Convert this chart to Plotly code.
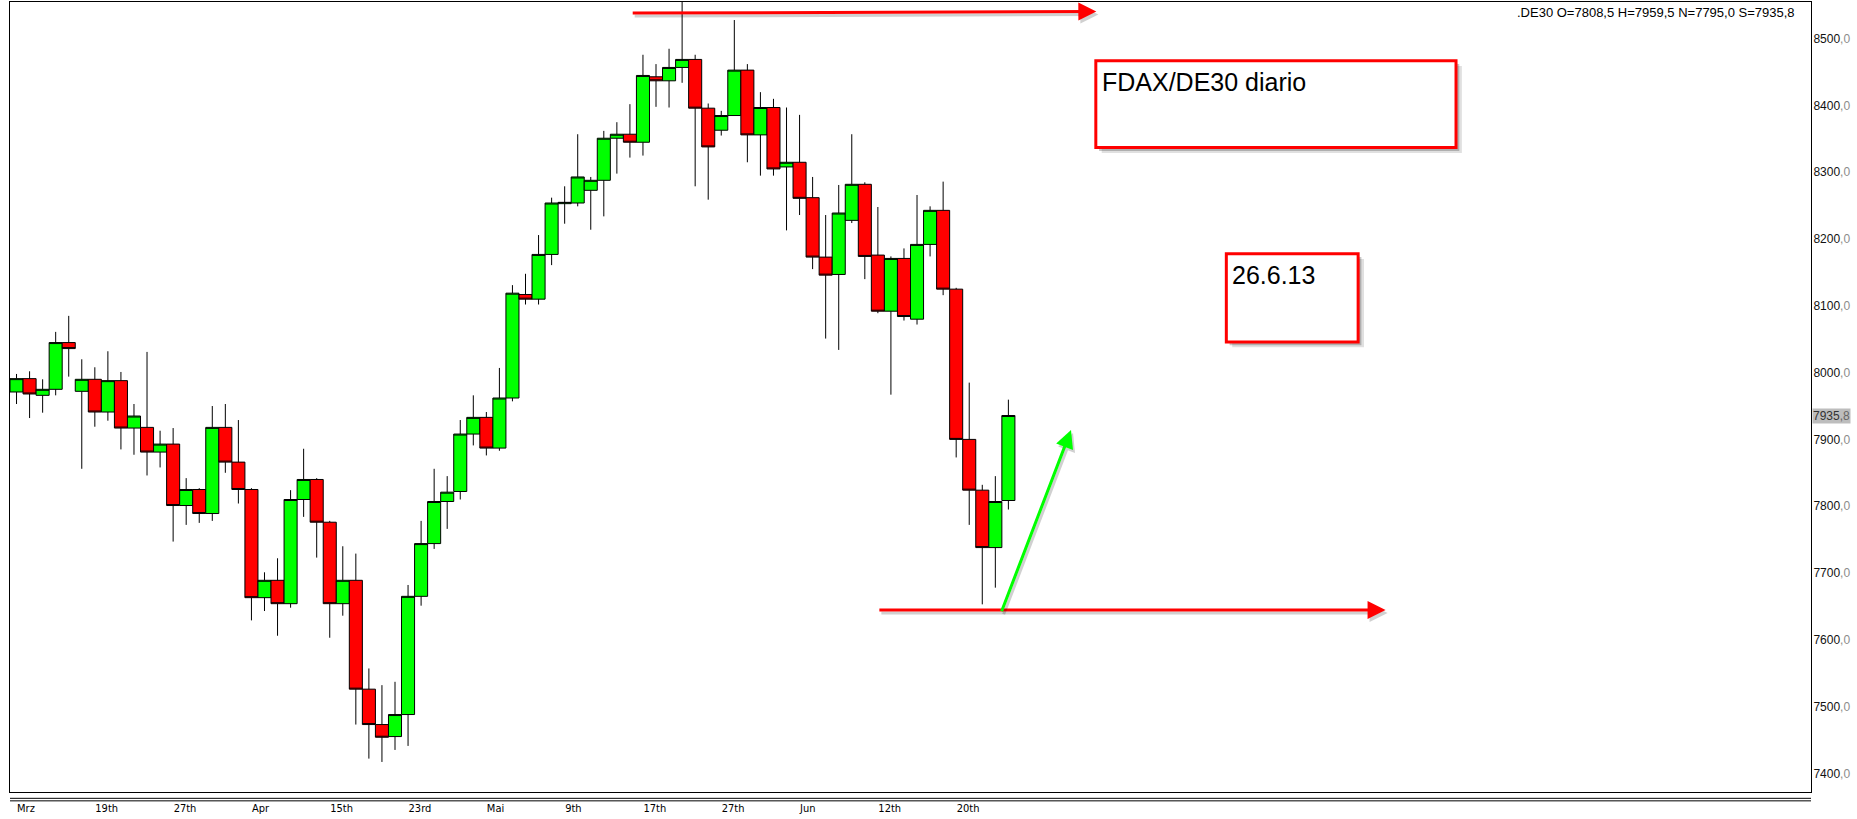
import plotly.graph_objects as go

# ---------------- data ----------------
bar_index = list(range(77))

opens = [7971, 7991, 7966, 7975, 8045, 7972, 7990, 7941, 7988, 7917,
         7918, 7881, 7893, 7801, 7825, 7789, 7918, 7866, 7825, 7663,
         7689, 7654, 7810, 7840, 7776, 7654, 7689, 7526, 7473, 7455,
         7488, 7665, 7744, 7807, 7822, 7908, 7933, 7887, 7962, 8117,
         8110, 8177, 8253, 8254, 8273, 8288, 8351, 8357, 8345, 8443,
         8437, 8457, 8469, 8396, 8363, 8385, 8453, 8356, 8397, 8308,
         8315, 8262, 8173, 8147, 8228, 8282, 8176, 8092, 8171, 8080,
         8192, 8243, 8125, 7900, 7824, 7738, 7808.5]
highs = [7998, 8002, 7990, 8061, 8085, 8020, 8008, 8032, 8001, 7953,
         8031, 7913, 7917, 7842, 7827, 7950, 7953, 7929, 7827, 7701,
         7722, 7824, 7886, 7842, 7778, 7740, 7729, 7557, 7532, 7537,
         7682, 7778, 7856, 7845, 7929, 7966, 7941, 8007, 8131, 8148,
         8206, 8262, 8279, 8357, 8293, 8362, 8375, 8402, 8476, 8462,
         8485, 8560, 8476, 8403, 8392, 8528, 8462, 8420, 8410, 8397,
         8386, 8293, 8236, 8281, 8357, 8285, 8248, 8174, 8186, 8266,
         8249, 8286, 8127, 7985, 7832, 7845, 7959.5]
lows = [7953, 7932, 7940, 7966, 7994, 7856, 7919, 7928, 7885, 7877,
        7846, 7858, 7747, 7772, 7775, 7778, 7850, 7804, 7629, 7643,
        7606, 7648, 7784, 7723, 7603, 7636, 7473, 7422, 7417, 7435,
        7441, 7651, 7736, 7766, 7810, 7891, 7876, 7883, 7957, 8102,
        8102, 8161, 8223, 8249, 8214, 8234, 8298, 8322, 8325, 8398,
        8397, 8434, 8279, 8259, 8355, 8385, 8315, 8295, 8295, 8213,
        8236, 8155, 8051, 8034, 8224, 8140, 8089, 7967, 8078, 8072,
        8174, 8116, 7873, 7772, 7653, 7678, 7795.0]
closes = [7991, 7968, 7975, 8045, 8036, 7990, 7941, 7988, 7917, 7935,
          7881, 7893, 7801, 7825, 7789, 7918, 7866, 7825, 7663, 7689,
          7654, 7810, 7840, 7776, 7654, 7689, 7526, 7473, 7454, 7488,
          7665, 7744, 7807, 7821, 7908, 7933, 7887, 7962, 8119, 8110,
          8177, 8254, 8255, 8293, 8288, 8351, 8357, 8345, 8445, 8437,
          8457, 8469, 8396, 8338, 8385, 8453, 8356, 8397, 8305, 8315,
          8261, 8173, 8146, 8239, 8282, 8174, 8092, 8171, 8084, 8192,
          8243, 8125, 7900, 7824, 7738, 7807, 7935.8]

date_tick_bars = [0, 6, 12, 18, 24, 30, 36, 42, 48, 54, 60, 66, 72]
date_tick_labels = ["Mrz", "19th", "27th", "Apr", "15th", "23rd", "Mai",
                    "9th", "17th", "27th", "Jun", "12th", "20th"]
price_ticks = [7400, 7500, 7600, 7700, 7800, 7900, 8000, 8100, 8200, 8300, 8400, 8500]

symbol = ".DE30"
title_text = "FDAX/DE30 diario"
date_text = "26.6.13"

# ---------------- figure ----------------
def de(v, nd=1):
    return f"{v:.{nd}f}".replace(".", ",")

fig = go.Figure()
fig.add_trace(go.Candlestick(
    x=bar_index, open=opens, high=highs, low=lows, close=closes,
    increasing=dict(fillcolor="#00ff00", line=dict(color="black", width=1)),
    decreasing=dict(fillcolor="#ff0000", line=dict(color="black", width=1)),
    whiskerwidth=0, hoverinfo="skip", showlegend=False,
))

y_ticktext = [f"{p}<span style='color:#8c8c8c'>,0</span>" for p in price_ticks]

fig.update_layout(
    template="none",
    width=1857, height=819,
    margin=dict(l=10, r=46, t=2, b=27, autoexpand=False),
    paper_bgcolor="white", plot_bgcolor="white",
    showlegend=False, boxgap=0, boxgroupgap=0,
    font=dict(family="Liberation Sans, Arial, sans-serif", size=12, color="black"),
    hovermode=False,
)
fig.update_xaxes(
    range=[-0.5, 137.5], rangeslider_visible=False, showgrid=False, zeroline=False,
    automargin=False,
    showline=True, mirror=True, linecolor="black", linewidth=1,
    tickmode="array", tickvals=date_tick_bars, ticktext=date_tick_labels,
    ticks="", ticklabelposition="outside right", ticklabelstandoff=6,
    tickfont=dict(family="DejaVu Sans Condensed, Liberation Sans Narrow, Arial Narrow, Liberation Sans",
                  size=11, color="black"),
)
fig.update_yaxes(
    range=[7372, 8555], side="right", showgrid=False, zeroline=False,
    automargin=False,
    showline=True, mirror=True, linecolor="black", linewidth=1,
    tickmode="array", tickvals=price_ticks, ticktext=y_ticktext,
    ticks="", ticklabelstandoff=-1,
    tickfont=dict(family="Liberation Sans, Arial, sans-serif", size=12, color="#111111"),
)

shapes = []
# double rule beneath the price pane
for yy in (-0.008, -0.0112):
    shapes.append(dict(type="line", xref="paper", yref="paper", x0=0, x1=1, y0=yy, y1=yy,
                       line=dict(color="black", width=1)))

# text boxes with drop shadows (data coords: bar index / price)
boxes = [(82.7, 110.3, 8337, 8467), (92.7, 102.8, 8046, 8178)]
for x0, x1, y0, y1 in boxes:
    shapes.append(dict(type="rect", xref="x", yref="y", x0=x0 + 0.45, x1=x1 + 0.45,
                       y0=y0 - 8, y1=y1 - 8, line=dict(width=0),
                       fillcolor="rgba(0,0,0,0.12)"))
    shapes.append(dict(type="rect", xref="x", yref="y", x0=x0 + 0.25, x1=x1 + 0.25,
                       y0=y0 - 5, y1=y1 - 5, line=dict(width=0),
                       fillcolor="rgba(0,0,0,0.22)"))
    shapes.append(dict(type="rect", xref="x", yref="y", x0=x0, x1=x1, y0=y0, y1=y1,
                       line=dict(color="#ff0000", width=3), fillcolor="white"))
fig.update_layout(shapes=shapes)

ann = []
ann.append(dict(xref="x", yref="y", x=83.0, y=8435, text=title_text, showarrow=False,
                xanchor="left", yanchor="middle", font=dict(size=25, color="black")))
ann.append(dict(xref="x", yref="y", x=92.95, y=8146, text=date_text, showarrow=False,
                xanchor="left", yanchor="middle", font=dict(size=25, color="black")))

# header with last bar values
o, h, l, c = opens[-1], highs[-1], lows[-1], closes[-1]
header = f"{symbol} O={de(o)} H={de(h)} N={de(l)} S={de(c)}"
ann.append(dict(xref="paper", yref="paper", x=0.9925, y=0.9868, text=header, showarrow=False,
                xanchor="right", yanchor="middle", font=dict(size=13, color="black")))

# last price label on the axis
ann.append(dict(xref="paper", yref="y", x=1, y=c, xshift=1,
                text=f"{int(c)}<span style='color:#666666'>,{de(c).split(',')[1]}</span>",
                showarrow=False, xanchor="left", yanchor="middle", bgcolor="#bdbdbd",
                borderpad=0, font=dict(size=12, color="#333333")))

# hand-drawn arrows (shadow first, then colour)
arrows = [
    ((47.1, 8538.4), (82.74, 8540.7), "#ff0000"),
    ((66.0, 7644.4), (104.9, 7644.4), "#ff0000"),
    ((75.44, 7640.4), (80.80, 7914.1), "#00ff00"),
]
for (tx, ty), (hx, hy), col in arrows:
    ann.append(dict(xref="x", yref="y", axref="x", ayref="y", x=hx, y=hy, ax=tx, ay=ty,
                    text="", showarrow=True, arrowhead=2, arrowsize=1.2, arrowwidth=3,
                    arrowcolor="rgba(0,0,0,0.18)", xshift=2, yshift=-3))
    ann.append(dict(xref="x", yref="y", axref="x", ayref="y", x=hx, y=hy, ax=tx, ay=ty,
                    text="", showarrow=True, arrowhead=2, arrowsize=1.2, arrowwidth=3,
                    arrowcolor=col))
fig.update_layout(annotations=ann)

fig.write_html("out.html", config={"displayModeBar": False},
               post_script="document.body.style.margin='0';")
